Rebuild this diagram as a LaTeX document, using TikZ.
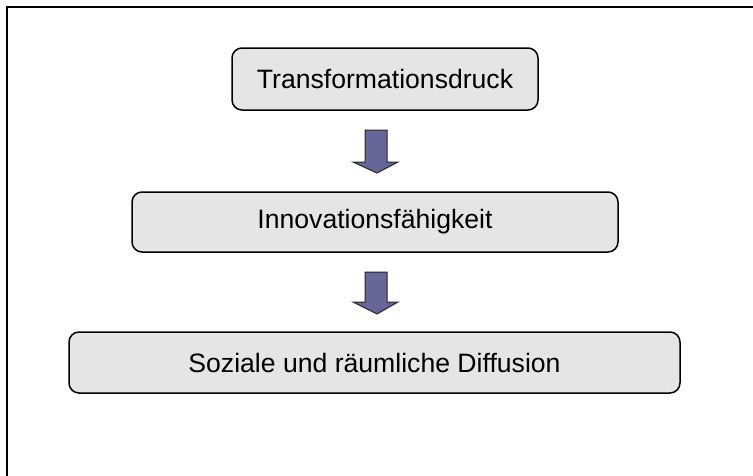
\documentclass[tikz,border=0pt]{standalone}
\usepackage{fontspec}
\setmainfont{Liberation Sans}
\tikzset{
  flowbox/.style={draw=black, line width=1.5pt, fill=black!10, rounded corners=10pt,
    inner sep=0pt, font=\fontsize{26.6}{30}\selectfont},
  blockarrow/.style={draw=black!85, line width=1pt, fill=arrowfill, line join=miter},
}
\definecolor{arrowfill}{HTML}{666699}
\begin{document}
\begin{tikzpicture}[x=1pt, y=-1pt]
  \useasboundingbox (0,0) rectangle (753,475);
  % outer frame, running past the right and lower page edges
  \begin{scope}
    \clip (0,0) rectangle (753,475);
    \draw[line width=2.4pt] (7,7) rectangle (800,520);
  \end{scope}

  % boxes
  \node[flowbox, minimum width=306pt, minimum height=62pt] (t) at (385,79) {Transformationsdruck};
  \node[flowbox, minimum width=486pt, minimum height=60pt] (i) at (375,222) {Innovationsfähigkeit};
  \node[flowbox, minimum width=611pt, minimum height=61pt] (s) at (374.5,362.5) {Soziale und räumliche Diffusion};

  % block arrows between the boxes
  \coordinate (a1) at (376,130);
  \coordinate (a2) at (376,272);
  \draw[blockarrow] (a1) ++(-11,0) -- ++(22,0) -- ++(0,32) -- ++(11,0) -- ++(-21,11)
        -- ++(-24,-11) -- ++(12,0) -- cycle;
  \draw[blockarrow] (a2) ++(-11,0) -- ++(22,0) -- ++(0,30) -- ++(11,0) -- ++(-21,12)
        -- ++(-24,-12) -- ++(12,0) -- cycle;
\end{tikzpicture}
\end{document}
